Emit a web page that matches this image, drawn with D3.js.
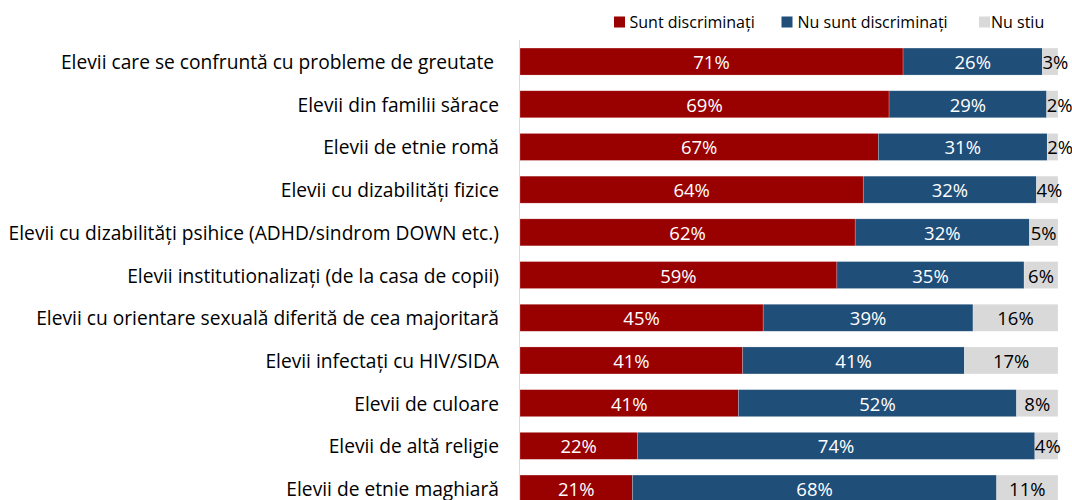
<!DOCTYPE html>
<html>
<head>
<meta charset="utf-8">
<script src="https://cdn.jsdelivr.net/npm/d3@7"></script>
<style>
  html, body { margin: 0; padding: 0; background: #fff; }
  svg { display: block; }
</style>
</head>
<body>
<svg id="chart" width="1072" height="500"></svg>
<script>
const categories = [
  "Elevii care se confruntă cu probleme de greutate ",
  "Elevii din familii sărace",
  "Elevii de etnie romă",
  "Elevii cu dizabilități fizice",
  "Elevii cu dizabilități psihice (ADHD/sindrom DOWN etc.)",
  "Elevii institutionalizați (de la casa de copii)",
  "Elevii cu orientare sexuală diferită de cea majoritară",
  "Elevii infectați cu HIV/SIDA",
  "Elevii de culoare",
  "Elevii de altă religie",
  "Elevii de etnie maghiară"
];
const seriesNames = ["Sunt discriminați", "Nu sunt discriminați", "Nu stiu"];
const discriminati    = [71.2, 68.6, 66.6, 63.8, 62.3, 58.9, 45.2, 41.4, 40.6, 21.8, 20.9];
const nuDiscriminati  = [25.9, 29.3, 31.4, 32.2, 32.4, 34.8, 39.0, 41.2, 51.7, 73.9, 67.7];
const nuStiu          = [2.9, 2.1, 2.0, 4.0, 5.3, 6.3, 15.8, 17.4, 7.7, 4.3, 11.4];
const colors = ["#990000", "#1F4E79", "#D9D9D9"];
const labelColors = ["#ffffff", "#ffffff", "#000000"];

const FONT = "'Open Sans', Lato, sans-serif";
const svg = d3.select("#chart");

const rows = categories.map((c, i) => ({
  cat: c,
  vals: [discriminati[i], nuDiscriminati[i], nuStiu[i]]
}));

const x = d3.scaleLinear().domain([0, 100]).range([520, 1058]);
const y = d3.scaleBand().domain(categories).range([40.2, 40.2 + 11 * 42.7])
  .paddingInner(0.368).paddingOuter(0.184);

// axis line
svg.append("line")
  .attr("x1", 519.5).attr("x2", 519.5)
  .attr("y1", y.range()[0]).attr("y2", y.range()[1])
  .attr("stroke", "#D9D9D9").attr("stroke-width", 1);

// category labels
svg.append("g").selectAll("text").data(rows).join("text")
  .attr("x", 499)
  .attr("y", d => y(d.cat) + y.bandwidth() / 2)
  .attr("text-anchor", "end")
  .attr("dominant-baseline", "central")
  .style("white-space", "pre")
  .attr("font-family", FONT)
  .attr("font-size", 19.2)
  .attr("fill", "#000")
  .text(d => d.cat);

// segments
const segs = [];
rows.forEach(r => {
  let acc = 0;
  r.vals.forEach((v, k) => {
    segs.push({ cat: r.cat, k, v, x0: acc, x1: acc + v });
    acc += v;
  });
});

svg.append("g").selectAll("rect").data(segs).join("rect")
  .attr("x", d => x(d.x0))
  .attr("y", d => y(d.cat))
  .attr("width", d => x(d.x1) - x(d.x0))
  .attr("height", y.bandwidth())
  .attr("fill", d => colors[d.k])
  .attr("stroke", "#ffffff")
  .attr("stroke-opacity", 0.35)
  .attr("stroke-width", 0.6);

// value labels
const vl = svg.append("g").selectAll("text").data(segs).join("text")
  .attr("y", d => y(d.cat) + y.bandwidth() / 2)
  .attr("dominant-baseline", "central")
  .attr("text-anchor", "middle")
  .attr("font-family", FONT)
  .attr("font-size", 18.5)
  .attr("fill", d => labelColors[d.k])
  .text(d => Math.round(d.v) + "%");
vl.each(function(d) {
  const w = this.getComputedTextLength();
  const cx = (x(d.x0) + x(d.x1)) / 2;
  const minCx = x(d.x0) + w / 2;
  d3.select(this).attr("x", Math.max(cx, minCx));
});

// legend
const legendItems = [
  { name: seriesNames[0], sx: 614, tx: 629.5 },
  { name: seriesNames[1], sx: 781.5, tx: 797.5 },
  { name: seriesNames[2], sx: 979, tx: 991 }
];
const lg = svg.append("g");
legendItems.forEach((it, i) => {
  lg.append("rect").attr("x", it.sx).attr("y", 16.5).attr("width", 11).attr("height", 11)
    .attr("fill", colors[i]);
  lg.append("text").attr("x", it.tx).attr("y", 22)
    .attr("dominant-baseline", "central")
    .attr("font-family", FONT).attr("font-size", 16).attr("fill", "#000")
    .text(it.name);
});
</script>
</body>
</html>
